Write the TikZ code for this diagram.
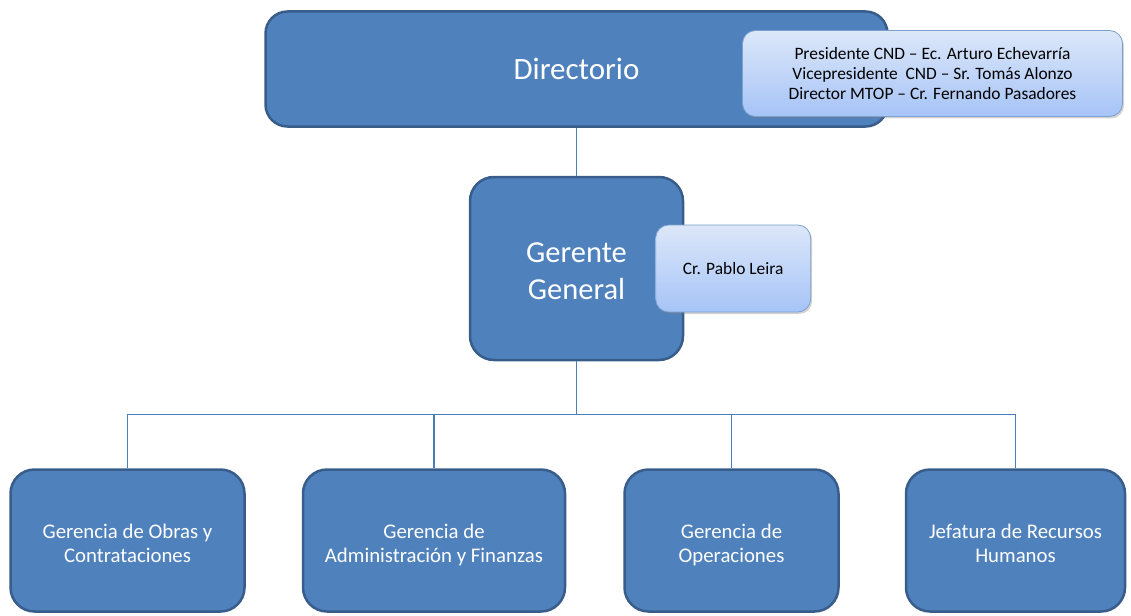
\documentclass[tikz,border=0pt]{standalone}
\usepackage{fontspec}
\setmainfont{Carlito}
\usepackage{xcolor}
\usepackage{tikz}
\usetikzlibrary{positioning,shadows}
\definecolor{boxfill}{HTML}{4F81BD}
\definecolor{boxline}{HTML}{385D8A}
\definecolor{linkcol}{HTML}{4A7EBB}
\definecolor{notetop}{HTML}{DCE7F9}
\definecolor{notebot}{HTML}{A6C4F7}
\definecolor{noteline}{HTML}{7BA0CD}
\newlength\txtup
\newlength\txtdn

\begin{document}
\begin{tikzpicture}[x=1pt,y=-1pt,
  textup/.code={\setlength\txtup{#1}},
  textdn/.code={\setlength\txtdn{#1}},
  box/.style={draw=boxline,fill=boxfill,line width=2.5pt,text=white,align=center,inner sep=0pt,
    execute at begin node={\rule{0pt}{\txtup}},
    execute at end node={\rule[-\txtdn]{0pt}{\txtdn}}},
  unit/.style={box,textup=49pt,textdn=5pt,rounded corners=24pt,minimum height=142pt,font=\fontsize{20.8}{24}\selectfont},
  note/.style={draw=noteline,top color=notetop,bottom color=notebot,line width=0.8pt,rounded corners=13pt,align=center,inner sep=0pt,font=\fontsize{17.4}{20}\selectfont,drop shadow={shadow xshift=1.5pt,shadow yshift=-2pt,opacity=0.35}},
  link/.style={draw=linkcol,line width=1.1pt}]
\useasboundingbox (0,0) rectangle (1131,615);
\node[box,textup=28pt,textdn=7.4pt,rounded corners=22pt,minimum width=622pt,minimum height=115pt,font=\fontsize{31}{38}\selectfont] (dir) at (576.5,69) {Directorio};
\node[box,textup=70pt,textdn=8.1pt,rounded corners=24pt,minimum width=213pt,minimum height=183pt,font=\fontsize{30.5}{37}\selectfont] (ger) [below=48pt of dir] {Gerente\\General};
\node[note,minimum width=380pt,minimum height=86pt] (dirnote) at (932.5,73.5) {Presidente CND -- Ec. Arturo Echevarría\\Vicepresidente\ \ CND -- Sr. Tomás Alonzo\\Director MTOP -- Cr. Fernando Pasadores};
\node[note,minimum width=155pt,minimum height=87pt] (gernote) [right=-29pt of ger] {Cr. Pablo Leira};
\node[unit,minimum width=234pt] (b1) at (127.5,540.5) {Gerencia de Obras y\\Contrataciones};
\node[unit,minimum width=262pt] (b2) [right=56pt of b1] {Gerencia de\\Administración y Finanzas};
\node[unit,minimum width=214pt] (b3) [right=57pt of b2] {Gerencia de\\Operaciones};
\node[unit,minimum width=219pt] (b4) [right=65pt of b3] {Jefatura de Recursos\\Humanos};
\path (ger.south) ++(0,53) coordinate (bus);
\draw[link] (ger.north) -- (ger.north |- dir.south);
\foreach \b in {b1,b2,b3,b4}
  \draw[link] (ger.south) -- (bus) -| (\b.north);
\end{tikzpicture}
\end{document}
